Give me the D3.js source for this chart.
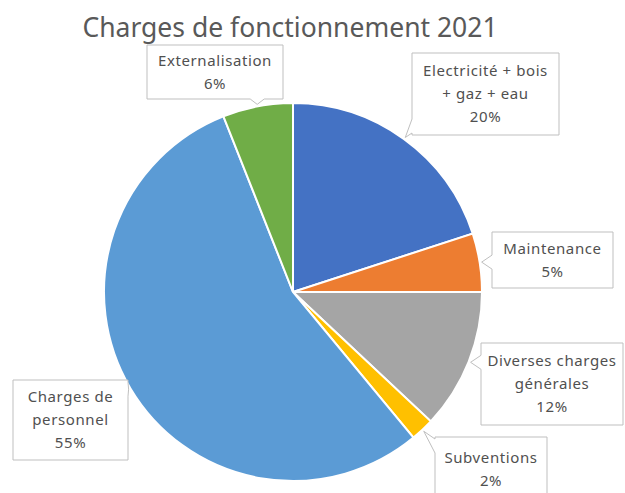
<!DOCTYPE html>
<html>
<head>
<meta charset="utf-8">
<script src="https://cdn.jsdelivr.net/npm/d3@7"></script>
<style>
  body { margin: 0; background: #fff; }
  svg { display: block; font-family: "Noto Sans", sans-serif; }
</style>
</head>
<body>
<svg></svg>
<script>
// data
var categories = ["Electricité + bois + gaz + eau", "Maintenance", "Diverses charges générales",
                  "Subventions", "Charges de personnel", "Externalisation"];
var values = [20, 5, 12, 2, 55, 6];
var colors = ["#4472C4", "#ED7D31", "#A5A5A5", "#FFC000", "#5B9BD5", "#70AD47"];
var title = "Charges de fonctionnement 2021";

// callout boxes, placed by hand like in the sheet
var boxes = [
    {x: 412, y: 53, w: 147, h: 82, wrap: 132},
    {x: 492, y: 232, w: 121, h: 56, wrap: 119},
    {x: 481, y: 343, w: 142, h: 82, wrap: 140},
    {x: 435, y: 437, w: 112, h: 64, wrap: 110},
    {x: 13, y: 380, w: 115, h: 80, wrap: 113},
    {x: 147, y: 45, w: 136, h: 54, wrap: 134}
];

var w = 625, h = 493;
var cx = 293, cy = 292, r = 189;
var fontsize = 15, lineH = 23;

var svg = d3.select("svg").attr("width", w).attr("height", h);

svg.append("text")
    .attr("x", 290)
    .attr("y", 37)
    .attr("text-anchor", "middle")
    .attr("font-size", 26.5)
    .attr("fill", "#595959")
    .text(title);

var total = d3.sum(values);
var pie = d3.pie().sort(null).value(d => d)(values);
var arc = d3.arc().innerRadius(0).outerRadius(r);

var g = svg.append("g").attr("transform", "translate(" + cx + "," + cy + ")");

g.selectAll(".slice")
    .data(pie)
    .enter().append("path")
    .attr("class", "slice")
    .attr("d", arc)
    .attr("fill", (d, i) => colors[i])
    .attr("stroke", "#fff")
    .attr("stroke-width", 2);

// callouts
pie.forEach(function (d, i) {
    var b = boxes[i];
    var mid = (d.startAngle + d.endAngle) / 2;
    var tip = {x: cx + Math.sin(mid) * (r + 2), y: cy - Math.cos(mid) * (r + 2)};

    svg.append("path")
        .attr("d", calloutPath(b, tip))
        .attr("fill", "#fff")
        .attr("stroke", "#BFBFBF")
        .attr("stroke-width", 1);

    var t = svg.append("text")
        .attr("text-anchor", "middle")
        .attr("font-size", fontsize)
        .attr("letter-spacing", 0.6)
        .attr("fill", "#505050");

    var lines = wrapLines(t, categories[i], b.wrap);
    lines.push(Math.round(values[i] / total * 100) + "%");
    t.text(null);
    var y0 = b.y + b.h / 2 - (lines.length - 1) * lineH / 2 + fontsize * 0.35;
    lines.forEach(function (l, k) {
        t.append("tspan")
            .attr("x", b.x + b.w / 2)
            .attr("y", y0 + k * lineH)
            .text(l);
    });
});

function wrapLines(t, str, width) {
    var words = str.split(/\s+/), line = [], out = [];
    words.forEach(function (word) {
        line.push(word);
        t.text(line.join(" "));
        if (t.node().getComputedTextLength() > width && line.length > 1) {
            line.pop();
            out.push(line.join(" "));
            line = [word];
        }
    });
    out.push(line.join(" "));
    return out;
}

// rectangle with a small wedge pointing at the slice
function calloutPath(b, tip) {
    var x0 = b.x, x1 = b.x + b.w, y0 = b.y, y1 = b.y + b.h;
    var dx = tip.x < x0 ? x0 - tip.x : (tip.x > x1 ? tip.x - x1 : 0);
    var dy = tip.y < y0 ? y0 - tip.y : (tip.y > y1 ? tip.y - y1 : 0);
    var half = 7;
    var clamp = (v, a, c) => Math.max(a + 2, Math.min(c - 2 - 2 * half, v - half));
    var p = [];
    if (dx >= dy) {
        var s = clamp(tip.y, y0, y1);
        if (tip.x < x0) {
            p = [[x0, y0], [x1, y0], [x1, y1], [x0, y1], [x0, s + 2 * half], [tip.x, tip.y], [x0, s]];
        } else {
            p = [[x0, y0], [x1, y0], [x1, s], [tip.x, tip.y], [x1, s + 2 * half], [x1, y1], [x0, y1]];
        }
    } else {
        var s2 = clamp(tip.x, x0, x1);
        if (tip.y < y0) {
            p = [[x0, y0], [s2, y0], [tip.x, tip.y], [s2 + 2 * half, y0], [x1, y0], [x1, y1], [x0, y1]];
        } else {
            p = [[x0, y0], [x1, y0], [x1, y1], [s2 + 2 * half, y1], [tip.x, tip.y], [s2, y1], [x0, y1]];
        }
    }
    return "M" + p.map(q => q[0] + "," + q[1]).join("L") + "Z";
}
</script>
</body>
</html>
